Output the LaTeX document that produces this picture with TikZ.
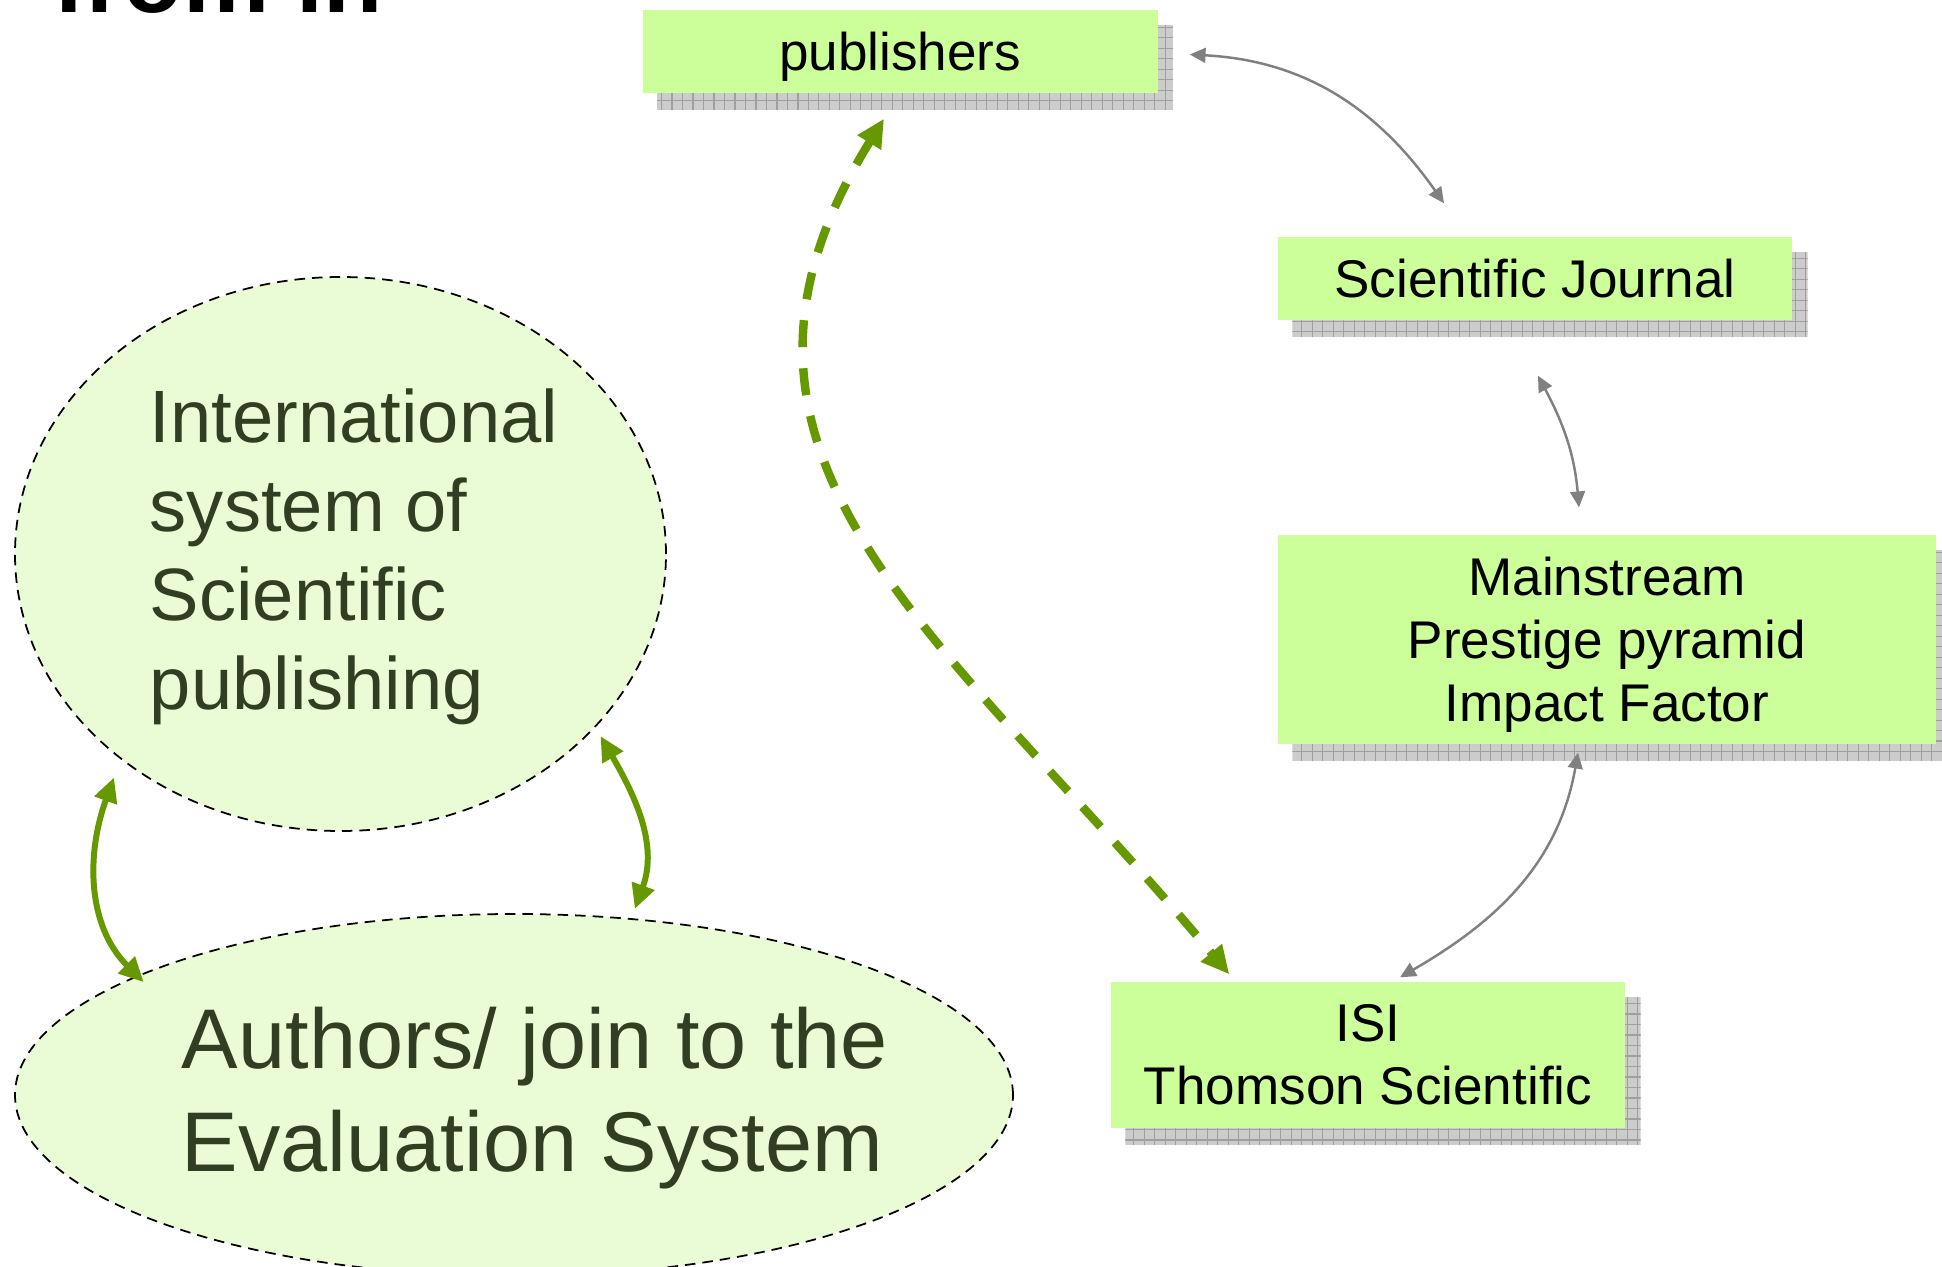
\documentclass[tikz,border=0pt]{standalone}
\usepackage{fontspec}
\setmainfont{Liberation Sans}
\usetikzlibrary{calc}
\usetikzlibrary{arrows.meta, backgrounds}
\usetikzlibrary{shapes.geometric}
\definecolor{boxgreen}{RGB}{204,255,153}
\definecolor{bubblegreen}{RGB}{234,252,214}
\definecolor{arrowgreen}{RGB}{102,153,0}
\definecolor{bubbleink}{RGB}{48,62,34}
\tikzset{
	fact/.style={
		rectangle,
		fill=boxgreen,
		inner sep=0pt,
		align=center,
		font=\fontsize{15.1}{17.9}\selectfont
	},
	bubble/.style={
		ellipse,
		draw=black,
		line width=0.5pt,
		dash pattern=on 3pt off 2pt,
		fill=bubblegreen,
		inner sep=0pt,
		outer sep=3pt
	},
	bubbletext/.style={
		align=left,
		text=bubbleink,
		inner sep=0pt
	},
	link/.style={
		gray,
		line width=0.7pt,
		{Triangle[length=4.5pt,width=4.2pt]}-{Triangle[length=4.5pt,width=4.2pt]}
	},
	tie/.style={
		arrowgreen,
		line width=1.7pt,
		{Triangle[length=7pt,width=6.5pt]}-{Triangle[length=7pt,width=6.5pt]}
	},
	flow/.style={
		arrowgreen,
		line width=2.4pt,
		dash pattern=on 7.7pt off 6pt,
		{Triangle[length=8pt,width=7.4pt]}-{Triangle[length=8pt,width=7.4pt]}
	}
}

\begin{document}
\begin{tikzpicture}

	% The page
	\useasboundingbox (0,0) rectangle (19.42,12.66);

	% Title, cut at the top
	\node[anchor=base west, inner sep=0pt,
		font=\bfseries\fontsize{27.6}{33}\selectfont] (title) at (0.53,12.53) {from in};

	% The boxes on the right
	\node[fact, text depth=0pt, minimum width=5.15cm, minimum height=0.83cm] (pub) at (9.00,12.145) {publishers};
	\node[fact, minimum width=5.14cm, minimum height=0.83cm] (journal) at (15.35,9.875) {Scientific Journal};
	\node[fact, text depth=0pt, minimum width=6.58cm, minimum height=2.09cm] (mainstream) at (16.07,6.265)
		{Mainstream\\Prestige pyramid\\Impact Factor};
	\node[fact, minimum width=5.14cm, minimum height=1.46cm] (isi) at (13.68,2.11)
		{ISI\\Thomson Scientific};

	% The two ellipses on the left
	\node[bubble, minimum width=6.51cm, minimum height=5.54cm] (system) at (3.405,7.12) {};
	\node[bubbletext, font=\fontsize{21.1}{25.3}\selectfont] (systemtext) at (3.54,7.095)
		{International\\system of\\Scientific\\publishing};

	\node[bubble, minimum width=9.98cm, minimum height=3.62cm] (authors) at (5.14,1.71) {};
	\node[bubbletext, font=\fontsize{24.1}{29.5}\selectfont] (authorstext) at (5.35,1.68)
		{Authors/ join to the\\Evaluation System};

	% Shadows of the boxes
	\begin{scope}[on background layer]
		\foreach \b in {pub,journal,mainstream,isi} {
			\begin{scope}
				\clip ($(\b.south west)+(0.15,-0.16)$) rectangle ($(\b.north east)+(0.15,-0.16)$);
				\fill[gray!40] ($(\b.south west)+(0.15,-0.16)$) rectangle ($(\b.north east)+(0.15,-0.16)$);
				\draw[gray!75, line width=0.3pt, step=0.105]
					($(\b.south west)+(0.15,-0.16)$) grid ($(\b.north east)+(0.15,-0.16)$);
			\end{scope}
		}
	\end{scope}

	% Grey links between the boxes
	\draw[link] ($(pub.east)+(0.315,-0.03)$) to[out=-3, in=125] ($(journal.north)+(-0.91,0.33)$);
	\draw[link] ($(journal.south)+(0.03,-0.55)$) to[out=-62, in=95] ($(mainstream.north)+(-0.28,0.27)$);
	\draw[link] ($(mainstream.south)+(-0.29,-0.08)$) to[out=-100, in=30] ($(isi.north)+(0.32,0.04)$);

	% Green links
	\draw[tie] ($(system.225)+(-0.08,-0.05)$) to[out=250, in=135] ($(authors.163)+(0.25,-0.08)$);
	\draw[tie] (system.-35) to[out=-60, in=70] (authors.57);
	\draw[flow] ($(pub.south)+(-0.16,-0.25)$) .. controls (6.74,8.08) and (9.41,6.36) .. ($(isi.north west)+(1.19,0.07)$);

\end{tikzpicture}
\end{document}
